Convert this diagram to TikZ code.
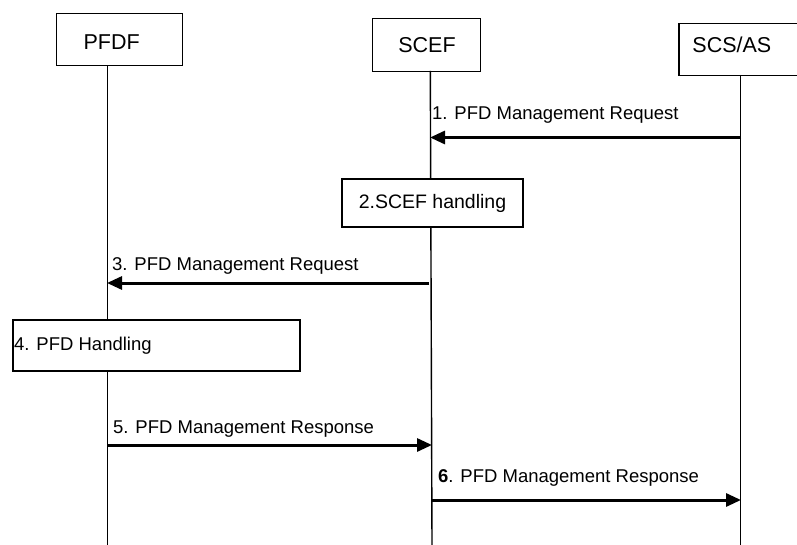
\documentclass[tikz,border=0pt]{standalone}
\usepackage{fontspec}
\setmainfont{Liberation Sans}
\usetikzlibrary{arrows.meta}
\begin{document}
\begin{tikzpicture}[x=1pt,y=-1pt,
  entity/.style={draw, line width=1.2pt, fill=white, inner ysep=0pt, minimum height=52pt, text depth=0pt, anchor=north west, align=left, font=\fontsize{21.5}{24}\selectfont},
  procbox/.style={draw, line width=1.5pt, fill=white, inner sep=0pt},
  lifeline/.style={line width=1.4pt},
  msg/.style={line width=3pt, -{Triangle[length=15pt,width=13pt]}},
  lbl/.style={anchor=west, inner sep=0pt, font=\fontsize{18.5}{22}\selectfont}]
\useasboundingbox (0,0) rectangle (797,545);
% entities
\node[entity, text height=20pt, text width=71.4pt, inner xsep=27.3pt] (pfdf) at (55.7,13.3) {PFDF};
\node[entity, text height=15pt, text width=56pt, inner xsep=26pt, minimum height=52.7pt] (scef) at (371.7,18.3) {SCEF};
\node[entity, text height=7pt, text width=100pt, inner xsep=13.5pt] (scs) at (678.3,22.7) {SCS/AS};
% lifeline end points
\coordinate (pTop) at (107.7,65.3);
\coordinate (pBot) at (107.7,545);
\coordinate (sTop) at (430.3,71);
\coordinate (sBot) at (432,545);
\coordinate (aTop) at (740.3,75);
\coordinate (aBot) at (740.3,545);
\draw[lifeline] (pTop) -- (pBot);
\draw[lifeline] (sTop) -- (sBot);
\draw[lifeline] (aTop) -- (aBot);
% boxes on lifelines
\node[procbox, minimum width=181pt, minimum height=48pt, font=\fontsize{19.5}{23}\selectfont] (h2) at (432.5,203) {2.SCEF handling};
\node[procbox, minimum width=287pt, minimum height=51pt, anchor=north west] (h4) at (12,319) {};
\node[lbl] (t4) at (14,346) {4. PFD Handling};
% message coordinates
\coordinate (m1s) at (741,137.5);
\coordinate (m1e) at (430,137.5);
\coordinate (m3s) at (429,283);
\coordinate (m3e) at (107,283);
\coordinate (m5s) at (107,445);
\coordinate (m5e) at (432,445);
\coordinate (m6s) at (431,500);
\coordinate (m6e) at (741,500);
\draw[msg] (m1s) -- (m1e);
\draw[msg] (m3s) -- (m3e);
\draw[msg] (m5s) -- (m5e);
\draw[msg] (m6s) -- (m6e);
% labels
\node[lbl] (t1) at (432,115) {1. PFD Management Request};
\node[lbl] (t3) at (112,266) {3. PFD Management Request};
\node[lbl] (t5) at (113,429) {5. PFD Management Response};
\node[lbl] (t6) at (438,478) {\textbf{6}. PFD Management Response};
\end{tikzpicture}
\end{document}
